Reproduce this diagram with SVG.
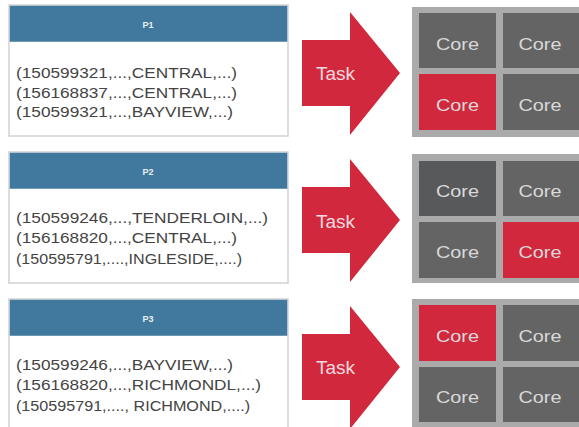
<svg xmlns="http://www.w3.org/2000/svg" width="579" height="427" viewBox="0 0 579 427">
  <style>
    .part-box { fill: #ffffff; stroke: #cfd2d4; stroke-width: 1.5; }
    .part-head { fill: #41789e; }
    .part-title { font-family: "Liberation Sans", Arial, sans-serif; font-size: 9px; font-weight: bold; fill: #e8f0f6; text-anchor: middle; }
    .row { font-family: "Liberation Sans", Arial, sans-serif; font-size: 15.5px; fill: #444444; }
    .task-shape { fill: #d1283e; }
    .task-label { font-family: "Liberation Sans", Arial, sans-serif; font-size: 17.5px; fill: #f6d9dd; }
    .panel { fill: #aaaaaa; }
    .core { fill: #646464; }
    .core.dark { fill: #58595b; }
    .core.busy { fill: #d1283e; }
    .core-label { font-family: "Liberation Sans", Arial, sans-serif; font-size: 17px; fill: #d9d9d9; text-anchor: middle; }
  </style>
  <defs>
    <polygon id="task-arrow" class="task-shape" points="302,40 350,40 350,12 400,73 350,135 350,106 302,106"/>
  </defs>

  <rect width="579" height="427" fill="#ffffff"/>

  <!-- partitions -->
  <g id="partition-p1">
    <rect class="part-box" x="9" y="5" width="279" height="131"/>
    <rect class="part-head" x="9.75" y="5.75" width="277.5" height="36"/>
    <text class="part-title" x="148" y="28">P1</text>
    <text class="row" x="16" y="78" textLength="221" lengthAdjust="spacingAndGlyphs">(150599321,...,CENTRAL,...)</text>
    <text class="row" x="16" y="97.5" textLength="221" lengthAdjust="spacingAndGlyphs">(156168837,...,CENTRAL,...)</text>
    <text class="row" x="16" y="117" textLength="217" lengthAdjust="spacingAndGlyphs">(150599321,...,BAYVIEW,...)</text>
  </g>

  <g id="partition-p2">
    <rect class="part-box" x="9" y="152" width="279" height="131"/>
    <rect class="part-head" x="9.75" y="152.75" width="277.5" height="36"/>
    <text class="part-title" x="148" y="175">P2</text>
    <text class="row" x="16" y="222.5" textLength="252" lengthAdjust="spacingAndGlyphs">(150599246,...,TENDERLOIN,...)</text>
    <text class="row" x="16" y="243" textLength="221" lengthAdjust="spacingAndGlyphs">(156168820,...,CENTRAL,...)</text>
    <text class="row" x="16" y="263.5" textLength="226" lengthAdjust="spacingAndGlyphs">(150595791,....,INGLESIDE,....)</text>
  </g>

  <g id="partition-p3">
    <rect class="part-box" x="9" y="299" width="279" height="131"/>
    <rect class="part-head" x="9.75" y="299.75" width="277.5" height="36"/>
    <text class="part-title" x="148" y="322">P3</text>
    <text class="row" x="16" y="370" textLength="217" lengthAdjust="spacingAndGlyphs">(150599246,...,BAYVIEW,...)</text>
    <text class="row" x="16" y="390" textLength="245" lengthAdjust="spacingAndGlyphs">(156168820,...,RICHMONDL,...)</text>
    <text class="row" x="16" y="410.5" textLength="234" lengthAdjust="spacingAndGlyphs">(150595791,...., RICHMOND,....)</text>
  </g>

  <!-- task arrows from each partition to its executor -->
  <g id="connectors">
    <g id="task-1">
      <use href="#task-arrow"/>
      <text class="task-label" x="316" y="80" textLength="39" lengthAdjust="spacingAndGlyphs">Task</text>
    </g>
    <g id="task-2">
      <use href="#task-arrow" y="147"/>
      <text class="task-label" x="316" y="228" textLength="39" lengthAdjust="spacingAndGlyphs">Task</text>
    </g>
    <g id="task-3">
      <use href="#task-arrow" y="294"/>
      <text class="task-label" x="316" y="374" textLength="39" lengthAdjust="spacingAndGlyphs">Task</text>
    </g>
  </g>

  <!-- executors, four cores each -->
  <g id="executor-1">
    <rect class="panel" x="412" y="7" width="180" height="130"/>
    <rect class="core" x="419" y="13" width="77" height="55"/>
    <rect class="core" x="503" y="13" width="80" height="55"/>
    <rect class="core busy" x="419" y="74" width="77" height="56"/>
    <rect class="core" x="503" y="74" width="80" height="56"/>
    <text class="core-label" x="457.5" y="50" textLength="43" lengthAdjust="spacingAndGlyphs">Core</text>
    <text class="core-label" x="540" y="50" textLength="43" lengthAdjust="spacingAndGlyphs">Core</text>
    <text class="core-label" x="457.5" y="111" textLength="43" lengthAdjust="spacingAndGlyphs">Core</text>
    <text class="core-label" x="540" y="111" textLength="43" lengthAdjust="spacingAndGlyphs">Core</text>
  </g>

  <g id="executor-2">
    <rect class="panel" x="412" y="154" width="180" height="129"/>
    <rect class="core dark" x="419" y="161" width="77" height="55"/>
    <rect class="core" x="503" y="161" width="80" height="55"/>
    <rect class="core" x="419" y="222" width="77" height="56"/>
    <rect class="core busy" x="503" y="222" width="80" height="56"/>
    <text class="core-label" x="457.5" y="197" textLength="43" lengthAdjust="spacingAndGlyphs">Core</text>
    <text class="core-label" x="540" y="197" textLength="43" lengthAdjust="spacingAndGlyphs">Core</text>
    <text class="core-label" x="457.5" y="258" textLength="43" lengthAdjust="spacingAndGlyphs">Core</text>
    <text class="core-label" x="540" y="258" textLength="43" lengthAdjust="spacingAndGlyphs">Core</text>
  </g>

  <g id="executor-3">
    <rect class="panel" x="412" y="299" width="180" height="135"/>
    <rect class="core busy" x="419" y="305" width="77" height="56"/>
    <rect class="core" x="503" y="305" width="80" height="56"/>
    <rect class="core" x="419" y="367" width="77" height="55"/>
    <rect class="core" x="503" y="367" width="80" height="55"/>
    <text class="core-label" x="457.5" y="342" textLength="43" lengthAdjust="spacingAndGlyphs">Core</text>
    <text class="core-label" x="540" y="342" textLength="43" lengthAdjust="spacingAndGlyphs">Core</text>
    <text class="core-label" x="457.5" y="403" textLength="43" lengthAdjust="spacingAndGlyphs">Core</text>
    <text class="core-label" x="540" y="403" textLength="43" lengthAdjust="spacingAndGlyphs">Core</text>
  </g>
</svg>
